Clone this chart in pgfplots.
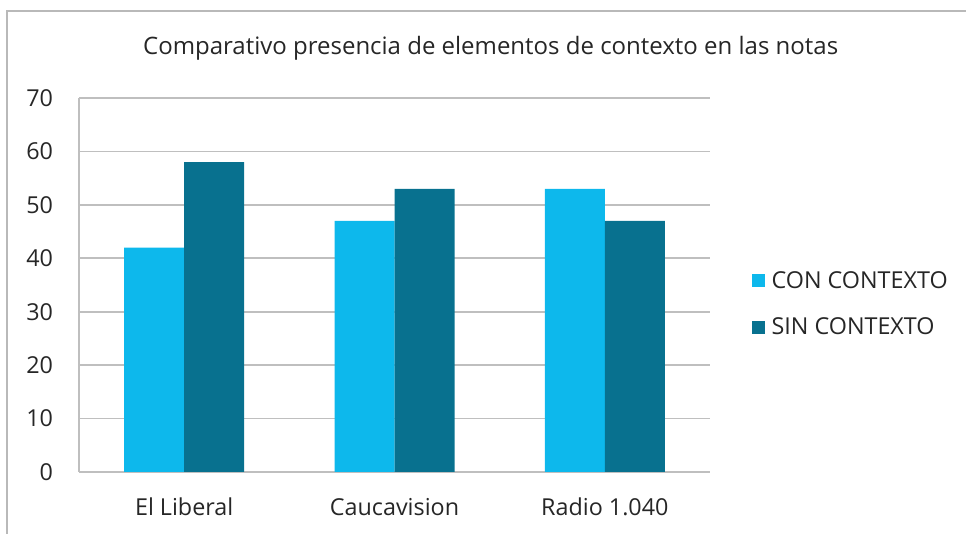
\documentclass[border=0pt]{standalone}
\usepackage{pgfplots}
\pgfplotsset{compat=1.18}
\usepackage{fontspec}
\setmainfont{Open Sans}
\definecolor{conctx}{HTML}{0DB8EC}
\definecolor{sinctx}{HTML}{08718F}
\definecolor{gridg}{HTML}{BFBFBF}
\definecolor{txt}{HTML}{262626}
\begin{document}
\begin{tikzpicture}
\path[use as bounding box] (0,0) rectangle (724.5pt,400.5pt);
\draw[gray!55, line width=1.3pt] (5.5pt,-5pt) rectangle (735pt,392.5pt);
\node[txt, font=\fontsize{18}{21}\selectfont] at (368pt,364.5pt) {Comparativo presencia de elementos de contexto en las notas};
\begin{axis}[
    at={(59.25pt,46.5pt)}, anchor=south west,
    scale only axis,
    width=473.25pt, height=280.5pt,
    ybar=0pt, bar width=45pt,
    xmin=-0.5, xmax=2.5, ymin=0, ymax=70,
    ytick={0,10,...,70},
    xtick=data,
    xticklabels={El Liberal, Caucavision, Radio 1.040},
    axis x line=bottom, axis y line=left,
    axis line style={-, draw=gridg, line width=1.2pt},
    ymajorgrids, grid style={gridg, line width=1.2pt},
    major tick length=0pt,
    tick label style={txt, font=\fontsize{17.5}{20}\selectfont},
    /pgf/number format/assume math mode=true,
    yticklabel style={xshift=-16pt},
    xticklabel style={yshift=-16pt},
    legend style={at={(1,0.449)}, anchor=west, xshift=28pt, draw=none,
        font=\fontsize{17.5}{20}\selectfont, text=txt, row sep=17pt},
    legend cell align=left,
    legend image code/.code={\fill[#1] (0pt,-5pt) rectangle (10pt,5pt);},
    legend style={nodes={inner xsep=5pt}},
]
\addplot[fill=conctx, draw=none] coordinates {(0,42) (1,47) (2,53)};
\addplot[fill=sinctx, draw=none] coordinates {(0,58) (1,53) (2,47)};
\legend{CON CONTEXTO, SIN CONTEXTO}
\end{axis}
\end{tikzpicture}
\end{document}
